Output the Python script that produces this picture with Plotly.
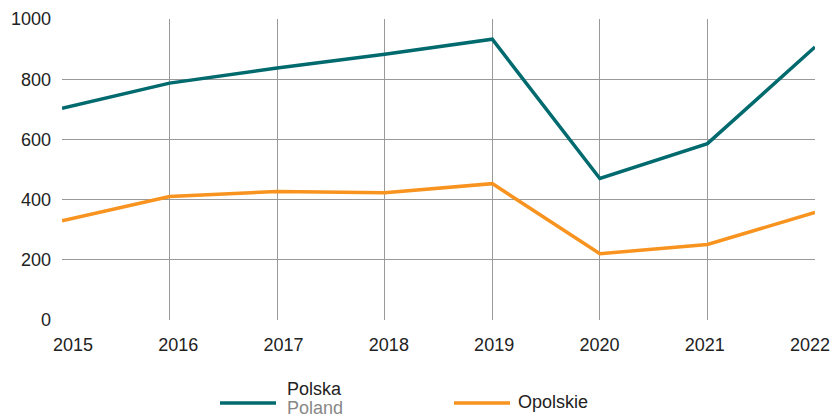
import plotly.graph_objects as go

years = [2015, 2016, 2017, 2018, 2019, 2020, 2021, 2022]
polska = [703, 787, 837, 883, 933, 470, 586, 907]
opolskie = [330, 410, 427, 423, 453, 220, 251, 357]
y_ticks = [0, 200, 400, 600, 800, 1000]

teal = "#006a6e"
orange = "#f7931e"
font = "Liberation Sans, Arial, sans-serif"
fs = 18

W, H = 834, 417
ml, mr, mt, mb = 62, 19, 19, 97
pw, ph = W - ml - mr, H - mt - mb

def px(x):
    return (x - ml) / pw

def py(y):
    return (H - mb - y) / ph

fig = go.Figure()
fig.add_trace(go.Scatter(x=years, y=polska, mode="lines", name="Polska",
                         line=dict(color=teal, width=3.5), showlegend=False))
fig.add_trace(go.Scatter(x=years, y=opolskie, mode="lines", name="Opolskie",
                         line=dict(color=orange, width=3.5), showlegend=False))
# label-only axis: tick labels spread slightly inward like the original
fig.add_trace(go.Scatter(x=years, y=[None] * len(years), xaxis="x2", mode="lines",
                         showlegend=False, hoverinfo="skip"))

lab_first, lab_last = 73, 810
f0, f1 = px(lab_first), px(lab_last)
span = (years[-1] - years[0]) / (f1 - f0)
r0 = years[0] - f0 * span
r1 = r0 + span

shapes = [
    dict(type="line", xref="paper", yref="paper", x0=px(220), x1=px(276), y0=py(403), y1=py(403),
         line=dict(color=teal, width=3.5)),
    dict(type="line", xref="paper", yref="paper", x0=px(454), x1=px(510), y0=py(403), y1=py(403),
         line=dict(color=orange, width=3.5)),
]
annotations = [
    dict(xref="paper", yref="paper", x=px(285), y=py(389), text="Polska", showarrow=False,
         xanchor="left", yanchor="middle", font=dict(family=font, size=fs, color="#222")),
    dict(xref="paper", yref="paper", x=px(285), y=py(408), text="Poland", showarrow=False,
         xanchor="left", yanchor="middle", font=dict(family=font, size=fs, color="#888")),
    dict(xref="paper", yref="paper", x=px(516), y=py(402), text="Opolskie", showarrow=False,
         xanchor="left", yanchor="middle", font=dict(family=font, size=fs, color="#222")),
]

fig.update_layout(
    width=W, height=H,
    margin=dict(l=ml, r=mr, t=mt, b=mb, autoexpand=False),
    paper_bgcolor="white", plot_bgcolor="white",
    font=dict(family=font, size=fs, color="#222"),
    shapes=shapes, annotations=annotations,
    showlegend=False,
    xaxis=dict(range=[years[0], years[-1]], tickvals=years, showticklabels=False,
               showgrid=True, gridcolor="#999", gridwidth=1, zeroline=False,
               showline=False, ticks="", automargin=False),
    xaxis2=dict(range=[r0, r1], overlaying="x", side="bottom", anchor="y",
                tickvals=years, ticktext=[str(y) for y in years],
                showgrid=False, zeroline=False, showline=False, ticks="",
                ticklabelstandoff=12, ticklabeloverflow="allow", automargin=False,
                tickfont=dict(family=font, size=fs, color="#222")),
    yaxis=dict(range=[0, 1000], tickvals=y_ticks, showgrid=True, gridcolor="#999",
               gridwidth=1, zeroline=False, showline=False, ticks="", automargin=False,
               ticklabelstandoff=10, tickfont=dict(family=font, size=fs, color="#222")),
)

fig.write_html("out.html", config={"displayModeBar": False})

with open("out.html", "r", encoding="utf-8") as f:
    html = f.read()
html = html.replace("<head>", "<head><style>html,body{margin:0;padding:0;overflow:hidden;}</style>", 1)
with open("out.html", "w", encoding="utf-8") as f:
    f.write(html)
